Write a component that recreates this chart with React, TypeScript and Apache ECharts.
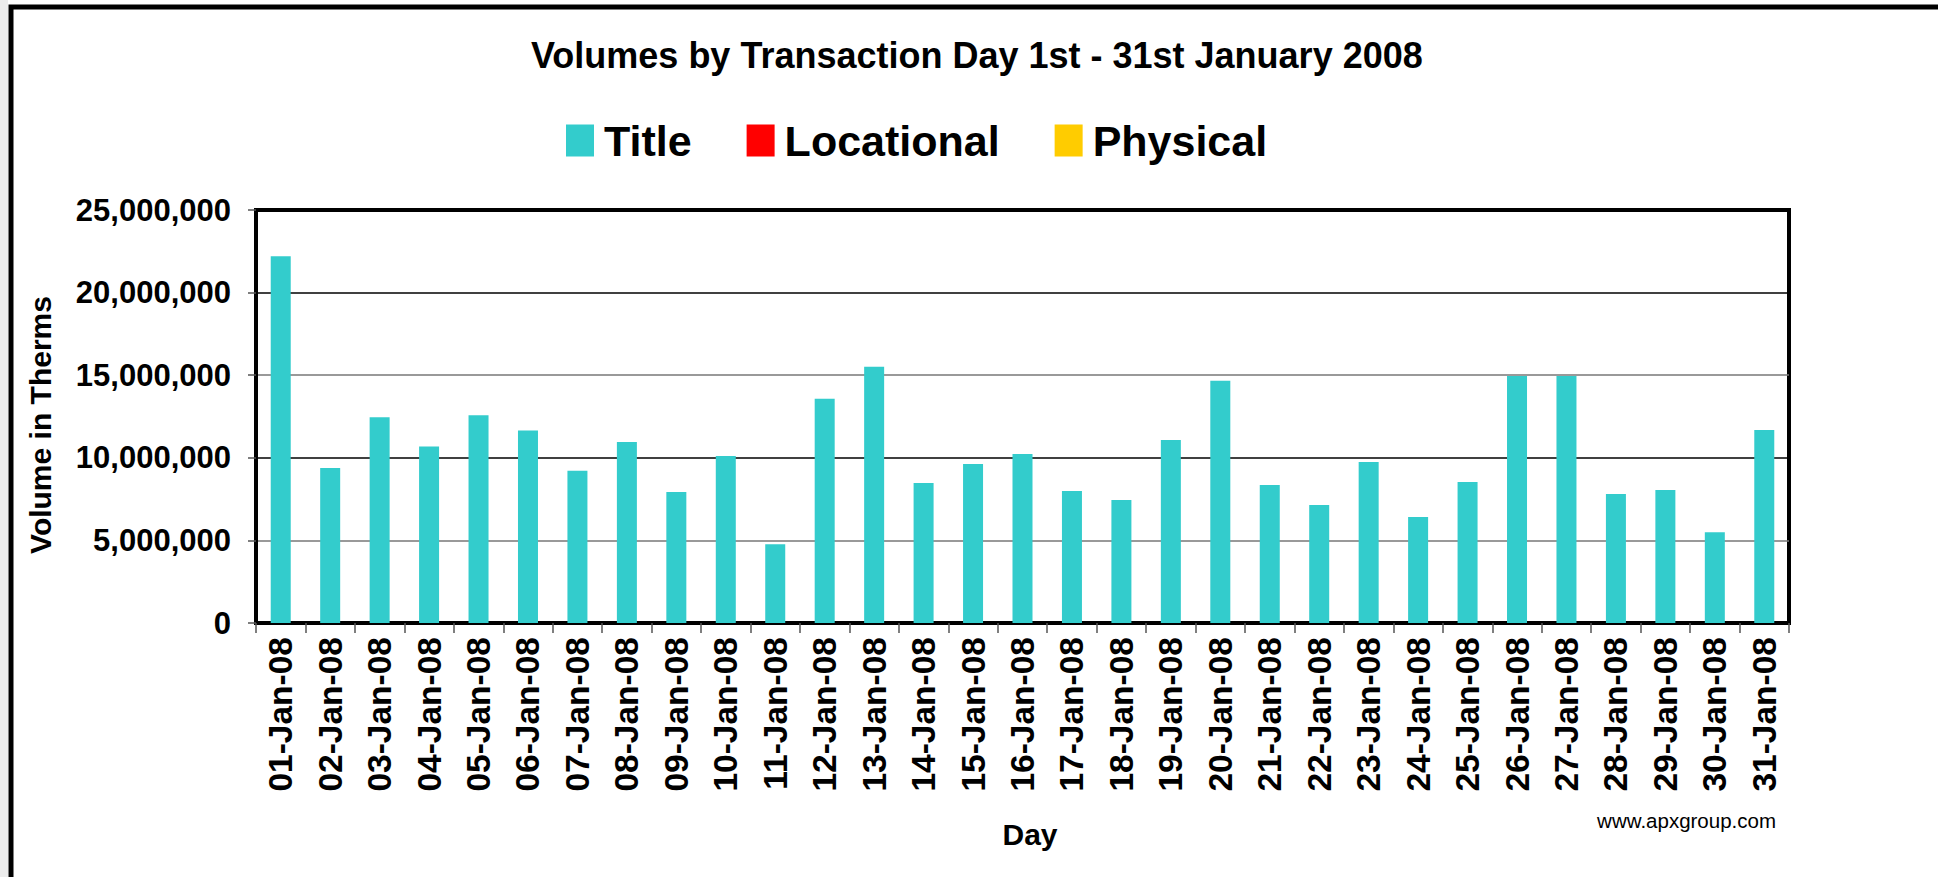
import React, { useEffect, useRef } from "react";
import * as echarts from "echarts";

const days = [
  "01-Jan-08", "02-Jan-08", "03-Jan-08", "04-Jan-08", "05-Jan-08", "06-Jan-08", "07-Jan-08",
  "08-Jan-08", "09-Jan-08", "10-Jan-08", "11-Jan-08", "12-Jan-08", "13-Jan-08", "14-Jan-08",
  "15-Jan-08", "16-Jan-08", "17-Jan-08", "18-Jan-08", "19-Jan-08", "20-Jan-08", "21-Jan-08",
  "22-Jan-08", "23-Jan-08", "24-Jan-08", "25-Jan-08", "26-Jan-08", "27-Jan-08", "28-Jan-08",
  "29-Jan-08", "30-Jan-08", "31-Jan-08",
];

const titleVolumes = [
  22200000, 9380000, 12450000, 10690000, 12570000, 11660000, 9220000,
  10960000, 7930000, 10110000, 4770000, 13570000, 15510000, 8470000,
  9630000, 10230000, 7990000, 7440000, 11080000, 14660000, 8350000,
  7140000, 9750000, 6410000, 8540000, 14950000, 14950000, 7810000,
  8050000, 5500000, 11690000,
];
const locationalVolumes: number[] = [];
const physicalVolumes: number[] = [];

const seriesNames = ["Title", "Locational", "Physical"];
const seriesColors = ["#33CCCC", "#FF0000", "#FFCC00"];

const yMin = 0;
const yMax = 25000000;
const yInterval = 5000000;

const chartTitle = "Volumes by Transaction Day 1st - 31st January 2008";
const yName = "Volume in Therms";
const xName = "Day";
const source = "www.apxgroup.com";

const FONT = "'Liberation Sans', Arial, Helvetica, sans-serif";

export default function App() {
  const ref = useRef<HTMLDivElement>(null);
  useEffect(() => {
    if (!ref.current) return;
    const chart = echarts.init(ref.current, null, { renderer: "svg" });
    const data = [titleVolumes, locationalVolumes, physicalVolumes];
    chart.setOption({
      animation: false,
      backgroundColor: "#ffffff",
      title: {
        text: chartTitle,
        left: 531,
        top: 37,
        padding: 0,
        textStyle: { fontFamily: FONT, fontSize: 36, fontWeight: "bold", color: "#000" },
      },
      legend: {
        left: 566,
        top: 119,
        padding: 0,
        itemWidth: 28,
        itemHeight: 32,
        itemGap: 55,
        icon: "rect",
        textStyle: { fontFamily: FONT, fontSize: 43, fontWeight: "bold", color: "#000", padding: [0, 0, 0, 5] },
        data: seriesNames,
      },
      grid: {
        left: 256,
        top: 210,
        width: 1533,
        height: 413,
        show: true,
        borderColor: "#000",
        borderWidth: 4,
        backgroundColor: "transparent",
      },
      xAxis: {
        type: "category",
        data: days,
        axisLine: { show: true, lineStyle: { color: "#000", width: 4 } },
        axisTick: { show: true, length: 10, lineStyle: { color: "#555", width: 1.5 } },
        axisLabel: {
          interval: 0,
          rotate: 90,
          margin: 14,
          fontFamily: FONT,
          fontSize: 33.5,
          fontWeight: "bold",
          color: "#000",
        },
        splitLine: { show: false },
      },
      yAxis: {
        type: "value",
        min: yMin,
        max: yMax,
        interval: yInterval,
        axisLine: { show: true, lineStyle: { color: "#000", width: 4 } },
        axisTick: { show: true, length: 8, lineStyle: { color: "#555", width: 1.5 } },
        axisLabel: {
          margin: 25,
          fontFamily: FONT,
          fontSize: 31,
          fontWeight: "bold",
          color: "#000",
          formatter: (v: number) => v.toLocaleString("en-US"),
        },
        splitLine: { show: true, lineStyle: { color: ["#000", "#777", "#000", "#777", "#000", "#000"], width: 1.5 } },
      },
      series: seriesNames.map((name, i) => ({
        name,
        type: "bar",
        stack: "total",
        barWidth: 20,
        itemStyle: { color: seriesColors[i] },
        data: data[i],
      })),
      graphic: [
        { type: "rect", shape: { x: 0, y: 0, width: 8, height: 877 }, style: { fill: "#ececec" }, z: -1 },
        { type: "rect", shape: { x: 11, y: 7, width: 2000, height: 1000 }, style: { fill: "none", stroke: "#000", lineWidth: 5 } },
        {
          type: "text",
          x: 40,
          y: 425,
          rotation: Math.PI / 2,
          style: { text: yName, fontFamily: FONT, fontSize: 30, fontWeight: "bold", fill: "#000", textAlign: "center", textVerticalAlign: "middle" },
        },
        {
          type: "text",
          x: 1030,
          y: 834,
          style: { text: xName, fontFamily: FONT, fontSize: 30, fontWeight: "bold", fill: "#000", textAlign: "center", textVerticalAlign: "middle" },
        },
        {
          type: "text",
          x: 1776,
          y: 820,
          style: { text: source, fontFamily: FONT, fontSize: 20.5, fill: "#000", textAlign: "right", textVerticalAlign: "middle" },
        },
      ],
    });
    return () => chart.dispose();
  }, []);
  return <div ref={ref} style={{ position: "fixed", left: 0, top: 0, width: 1938, height: 877 }} />;
}
